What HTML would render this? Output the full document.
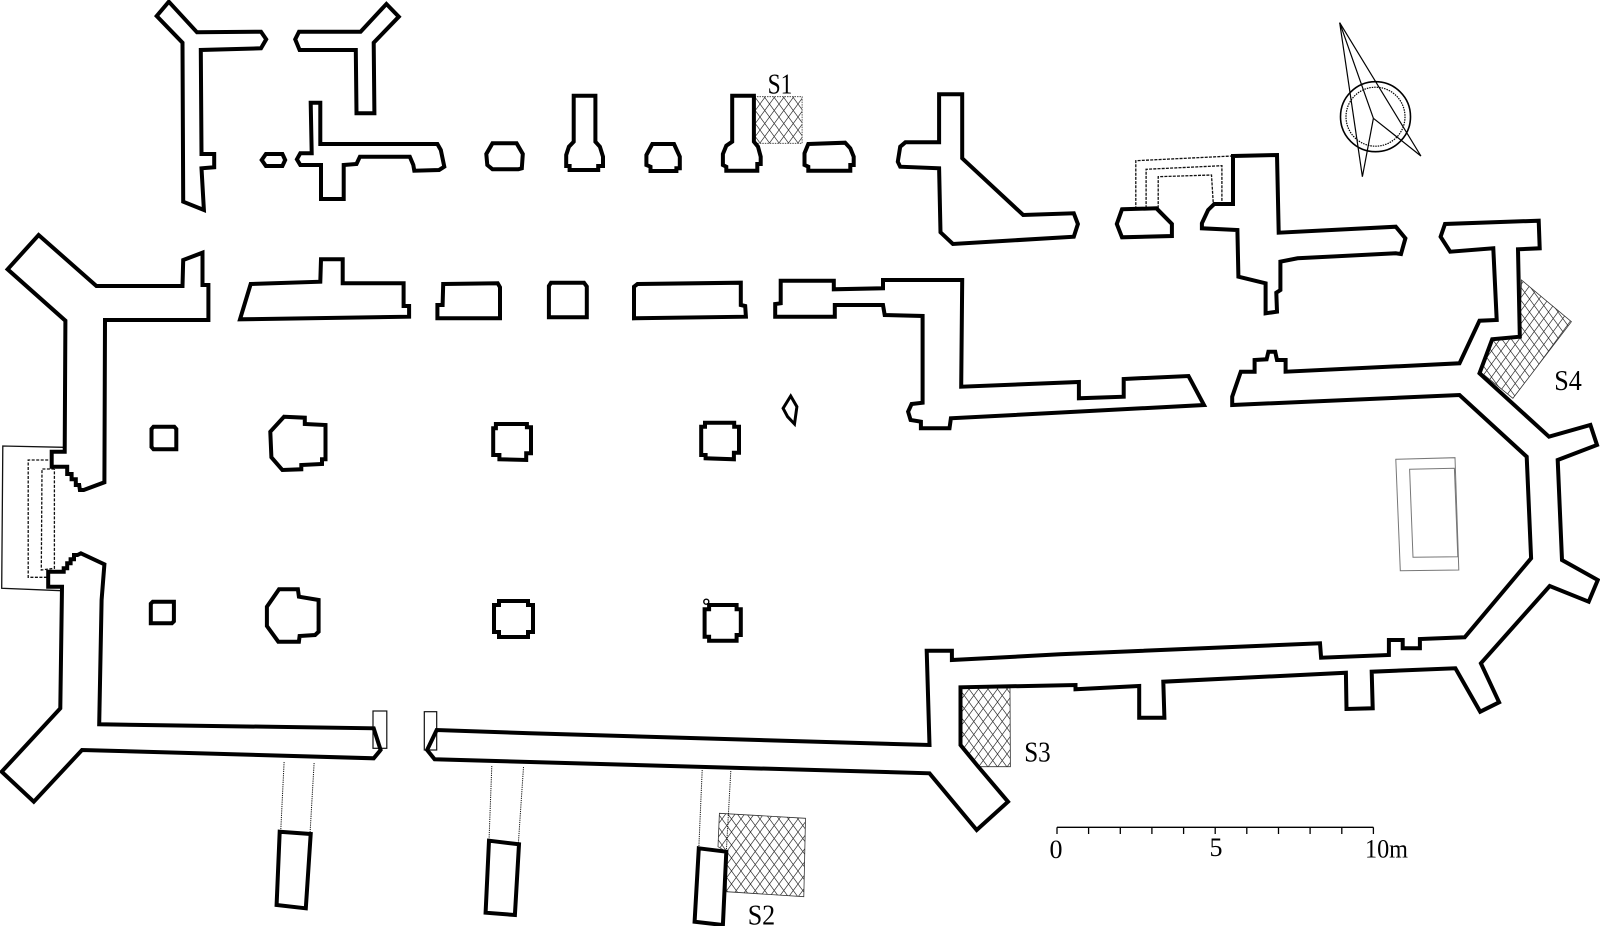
<!DOCTYPE html>
<html><head><meta charset="utf-8"><style>
html,body{margin:0;padding:0;background:#fff;}
svg{display:block}
</style></head><body>
<svg width="1600" height="926" viewBox="0 0 1600 926" xmlns="http://www.w3.org/2000/svg">
<defs>
<pattern id="hx" width="9.5" height="13" patternUnits="userSpaceOnUse">
<path d="M0,0L9.5,13M9.5,0L0,13" stroke="#333" stroke-width="0.7" fill="none"/>
</pattern>
</defs>
<rect width="1600" height="926" fill="#fff"/>

<!-- hatched areas -->
<g stroke="#333" stroke-width="0.8" fill="url(#hx)">
<rect x="754.5" y="96.7" width="47.6" height="46.6" stroke-dasharray="1.5,1"/>
<polygon points="719.4,813.3 805.5,818.3 803.8,896.7 726.3,891.7 726.3,851.7 718,846.7"/>
<polygon points="960.5,688 1010,688 1010.4,766.7 977.7,766.7 960.5,745"/>
<polygon points="1521.5,280 1571.4,321.7 1512.9,398.3 1480.2,371.7 1492.2,340 1519.8,336.7"/>
</g>

<!-- thin lines -->
<g fill="none" stroke="#111" stroke-width="1.3">
<polyline points="63.7,447.3 2.8,446 1.7,588.3 61.3,590.7"/>
<polyline points="48.2,460 28.2,460 28.2,577.3 48.2,577.3" stroke-dasharray="3,1.5"/>
<polyline points="54.4,469 42,469 41.3,570 54.4,568.3 54.4,469" stroke-dasharray="3,1.5"/>
<polyline points="1135.8,209.3 1135.8,160.7 1232.2,156" stroke-dasharray="3,1.2"/>
<polyline points="1146.1,208.3 1146.1,169.3 1221.9,165.7 1221.9,204" stroke-dasharray="3,1.2"/>
<polyline points="1158.2,208.3 1158.2,176.7 1211.5,175 1213.3,204" stroke-dasharray="3,1.2"/>
<g stroke-dasharray="1.2,1" stroke-width="1">
<line x1="284.1" y1="762" x2="280.7" y2="831.7"/>
<line x1="314.1" y1="763" x2="310" y2="834"/>
<line x1="491.8" y1="766" x2="489" y2="840.7"/>
<line x1="523.5" y1="767" x2="518.3" y2="844.3"/>
<line x1="702.2" y1="770" x2="698.8" y2="848.3"/>
<line x1="730.8" y1="771" x2="726.3" y2="851.7"/>
</g>
<rect x="373" y="711" width="13.8" height="37.3" stroke-width="1.2"/>
<rect x="424.3" y="711.7" width="12.4" height="38.3" stroke-width="1.2"/>
<g stroke="#777" stroke-width="1">
<polygon points="1395.8,459.3 1455,457.7 1458.8,570 1400.3,570.7"/>
<polygon points="1409.6,469.3 1454.4,468.3 1457.8,556.7 1413,557.3"/>
</g>
</g>

<!-- walls -->
<g fill="none" stroke="#000" stroke-width="4" stroke-linejoin="miter" stroke-miterlimit="10">
<polygon points="168.8,1.7 197,32.3 261,31.7 266.2,39.3 261,48.3 200.8,50 201.5,154 214.2,154 214.2,167.3 201.5,168.3 203.9,210 183.2,201.7 182.5,42.7 156.7,16"/>
<polygon points="299,31.7 360.6,31.7 386.4,4 398.8,16.7 373.7,42.7 374.4,113.3 356.5,113.3 355.8,50 299.6,50 295.2,39.3"/>
<polygon points="261.7,160 265.9,154 282.4,154 285.2,160 282.4,166 265.9,166"/>
<polygon points="310.7,102.7 320.3,102.7 320.3,144 437.4,144 440.8,150 444.3,166.7 439.1,170 414.3,170.7 413.3,165 409.8,156.7 359.9,156.7 356.5,164 343.7,165 343.7,199 321,199 321,165 300.3,165 296.9,159.3 300.3,153.3 311.7,153.3"/>
<polygon points="492.5,143.3 516.6,143.3 522.8,154 521.8,168.3 518.3,169.3 492.5,169.3 487.3,165 486.3,154"/>
<polygon points="573.7,95.7 595.4,95.7 595.4,141.7 599.9,146.7 603,156.7 603,166 598.2,166 598.2,170 569.6,170 569.6,166 566.2,166 566.2,155 568.9,146.7 573.7,141.7"/>
<polygon points="652.3,144 674,144 679.8,156.7 679.8,168.3 676.4,168.3 676.4,171 650.5,171 650.5,166.7 646.4,165 646.4,155"/>
<polygon points="732.2,95.7 753.9,95.7 753.9,141.7 758,146.7 760.7,156.7 760.7,164 757.3,164 757.3,170.7 726.3,170.7 726.3,166.7 722.9,165 722.9,154 726.3,145.7 732.2,141.7"/>
<polygon points="808.3,144 845.1,142.7 850.3,148.3 853.7,156.7 853.7,165 850.3,165 850.3,170.7 808.3,170.7 808.3,166.7 804.5,165 804.5,153.3"/>
<polygon points="939.1,94.3 962.2,94.3 962.2,158.3 1023.2,215 1073.8,213.3 1077.9,224 1073.8,236.7 952.9,244 940.5,232.3 939.1,168.3 900.2,166.7 897.8,161.7 900.2,146.7 905.4,142.3 939.1,142.3"/>
<polygon points="1122,209.3 1156.4,208.3 1171.9,224 1171.9,236 1122,237.3 1116.8,224"/>
<polygon points="1233,156 1277,155 1278.7,232.7 1395.8,226.7 1405.4,238.3 1401,254 1395.8,253.3 1297.6,258.3 1280.4,261.7 1280.4,290 1276.3,292.7 1277,311.7 1265.6,313.3 1265.6,283.3 1238.4,276.7 1237.4,230 1201.9,228.3 1201.9,223.3 1208.1,210 1214.3,204 1233,204"/>
<polygon points="38.6,235 96.4,286 182.5,286 183.2,260 202.5,252.7 202.5,285 208.4,285 208.4,320 105,320 104.4,482.3 83.7,490 79.9,490 79.2,485 75.8,485 75.8,479.3 71.6,479.3 71.6,474 67.2,474 67.2,466.7 51.7,466.7 51.7,451.7 64.7,451.7 65.4,320.7 7.6,269.3"/>
<polygon points="250.7,284 320.3,281.7 321,259.3 342.7,259.3 342.7,283.3 403.6,283.3 403.6,306 409.1,306 409.1,316.7 240,319.3"/>
<polygon points="443.2,284 497.7,283.3 500,287.3 500,318.3 437.4,318.3 437.4,305 442.6,305"/>
<polygon points="551,282.7 584,282.7 586.8,286.5 586.8,317.3 548.9,317.3 548.9,286"/>
<polygon points="637.5,284 740.8,282.7 740.8,305 745.2,306 745.9,316.7 634,318.3 634,286.7"/>
<polygon points="780.7,280.7 833.8,280.7 833.8,289.3 883,288.3 883,280 962.2,280 961.2,386.7 1078.9,382 1078.9,398.3 1123.7,396.7 1123.7,379 1188.5,376 1204,405 950.9,418.3 949.5,428.3 920.9,428.3 920.9,421.7 910.6,420 908.1,411.7 911.6,404 922.6,402.7 922.6,316 884.7,315 883,305 834.8,305 834.8,316.7 775.2,316.7 775.2,304 780.7,303.3"/>
<polygon points="48.2,571.7 63.7,571.7 63.7,568.3 67.2,568.3 67.2,563.3 70.6,563.3 70.6,559.3 74,559.3 74,555 77.5,555 80.9,553.3 104.4,564.3 101.6,600 99.2,724.3 373.7,728.3 380.6,750 373.7,758.3 82,750 33.8,801.7 1.7,771.7 60.3,708.3 62,586.7 48.2,586.7"/>
<polygon points="436.7,730 427.1,750 434.6,759.3 929.5,773.3 976.7,830 1008,801.7 977.7,766 960.5,745 960.5,687.3 1075.5,685 1075.5,689.3 1139.2,686 1139.2,717.7 1164.4,717.7 1163.3,681.7 1345.9,672.7 1346.5,709 1372.7,708.3 1371.7,671.7 1455.4,668.3 1480.2,711.7 1499.1,702.3 1480.9,663.3 1549.7,586 1588.7,601.7 1597.8,580 1562,560 1557.7,460 1597,445 1590.4,425 1549,436.7 1479.5,373.3 1492.2,339.3 1519.8,336.7 1518,249.3 1539.7,248.3 1538.7,220.7 1445,224 1440.6,236.7 1450.2,251.7 1493.3,248.3 1496.7,320 1479.5,320.7 1459.5,363.3 1285.6,371.7 1285.6,360 1277,360 1275.2,351.7 1268.4,351.7 1266.6,359.3 1254.6,360 1254.6,371.7 1240.8,371.7 1232.2,396.7 1232.2,405 1459.5,395 1526.7,456.7 1531.1,558.3 1464.7,637.3 1419.9,639 1419.9,648.3 1402.7,648.3 1402.7,640 1388.9,640 1388.9,655 1321.1,657.7 1320,643.3 1060,654.3 951.9,660 951.9,650.7 926.7,650.7 929.5,745 530,733.3"/>

<!-- nave piers -->
<polygon points="153.5,426.7 174.3,426.7 176.3,429 176.3,449.3 153.5,449.3 151.5,447 151.5,429"/>
<polygon points="284.1,416.7 304.8,417.7 304.8,424 325.5,425 325.5,459.3 322,459.3 322,464 301.3,465 301.3,469.3 282.4,470 271.4,457.3 270.3,431.7"/>
<polygon points="495.9,424 526.9,424 526.9,427.3 531,427.3 531,453.3 526.2,453.3 526.2,460 499.4,459.3 499.4,455 493.2,455 493.2,428.3 495.9,428.3"/>
<polygon points="705,422.7 734.2,422.7 734.2,426.7 739,426.7 739,452.7 733.9,452.7 733.9,459.3 705.6,458.3 705.6,455 701.2,455 701.2,426.7 705,426.7"/>
<polygon points="152.8,601.7 173.9,601.7 173.9,621.3 171.9,623.3 150.8,623.3 150.8,603.7"/>
<polygon points="279,589.3 297.9,589.3 298.9,596.7 318.6,600 318.6,631.7 315.1,635 299.6,636 298.9,641.7 278.3,641.7 266.9,626 266.9,606.7"/>
<polygon points="499,601 528,601 528,605 533,605 533,632 528,632 528,637 499,637 499,632 494,632 494,605 499,605"/>
<polygon points="709.1,605 736.6,605 736.6,609.3 740.8,609.3 740.8,635 736.6,635 736.6,640.7 709.1,640.7 709.1,636.7 704.6,636.7 704.6,609.3 709.1,609.3"/>
<polygon points="790.7,396 796.9,406.7 794.5,424 787.6,416.7 783.1,408.3" stroke-width="3"/>

<!-- south porch footings -->
<polygon points="279.7,831.7 310.7,834 305.8,908.3 276.6,905"/>
<polygon points="489,840.7 519,844.3 514.9,915 485.6,912.7"/>
<polygon points="698.8,848.3 726.3,851.7 722.9,925 694.6,921.7"/>
</g>
<circle cx="706.3" cy="601.7" r="2.5" fill="none" stroke="#000" stroke-width="1.4"/>

<!-- compass -->
<g fill="none" stroke="#000" stroke-width="1.2">
<circle cx="1375.5" cy="116.7" r="35" stroke-width="1.6"/>
<circle cx="1375.5" cy="116.7" r="29.5" stroke-dasharray="1.5,1"/>
<line x1="1339.7" y1="22.7" x2="1362.4" y2="176.7"/>
<line x1="1339.7" y1="22.7" x2="1373.4" y2="118.3"/>
<line x1="1339.7" y1="22.7" x2="1420.9" y2="156"/>
<line x1="1373.4" y1="118.3" x2="1362.4" y2="176.7"/>
<line x1="1373.4" y1="118.3" x2="1420.9" y2="156"/>
</g>

<!-- scale bar -->
<g stroke="#000" stroke-width="1.3">
<line x1="1057" y1="827.3" x2="1373.4" y2="827.3"/>
<line x1="1057" y1="827.3" x2="1057" y2="834"/>
<line x1="1088.6" y1="827.3" x2="1088.6" y2="834"/>
<line x1="1120.3" y1="827.3" x2="1120.3" y2="834"/>
<line x1="1151.9" y1="827.3" x2="1151.9" y2="834"/>
<line x1="1183.6" y1="827.3" x2="1183.6" y2="834"/>
<line x1="1215.2" y1="827.3" x2="1215.2" y2="834"/>
<line x1="1246.8" y1="827.3" x2="1246.8" y2="834"/>
<line x1="1278.5" y1="827.3" x2="1278.5" y2="834"/>
<line x1="1310.1" y1="827.3" x2="1310.1" y2="834"/>
<line x1="1341.8" y1="827.3" x2="1341.8" y2="834"/>
<line x1="1373.4" y1="827.3" x2="1373.4" y2="834"/>
</g>

<!-- labels -->
<g font-family="'Liberation Serif', serif" fill="#000">
<text x="767.6" y="93.3" font-size="28" textLength="24.8" lengthAdjust="spacingAndGlyphs">S1</text>
<text x="747.7" y="924.5" font-size="28" textLength="27.5" lengthAdjust="spacingAndGlyphs">S2</text>
<text x="1024.2" y="761.7" font-size="28" textLength="26.5" lengthAdjust="spacingAndGlyphs">S3</text>
<text x="1554.2" y="390" font-size="28" textLength="27.6" lengthAdjust="spacingAndGlyphs">S4</text>
<text x="1056" y="858" font-size="26" text-anchor="middle">0</text>
<text x="1216" y="856" font-size="26" text-anchor="middle">5</text>
<text x="1365" y="857.5" font-size="26" textLength="43" lengthAdjust="spacingAndGlyphs">10m</text>
</g>
</svg>
</body></html>
